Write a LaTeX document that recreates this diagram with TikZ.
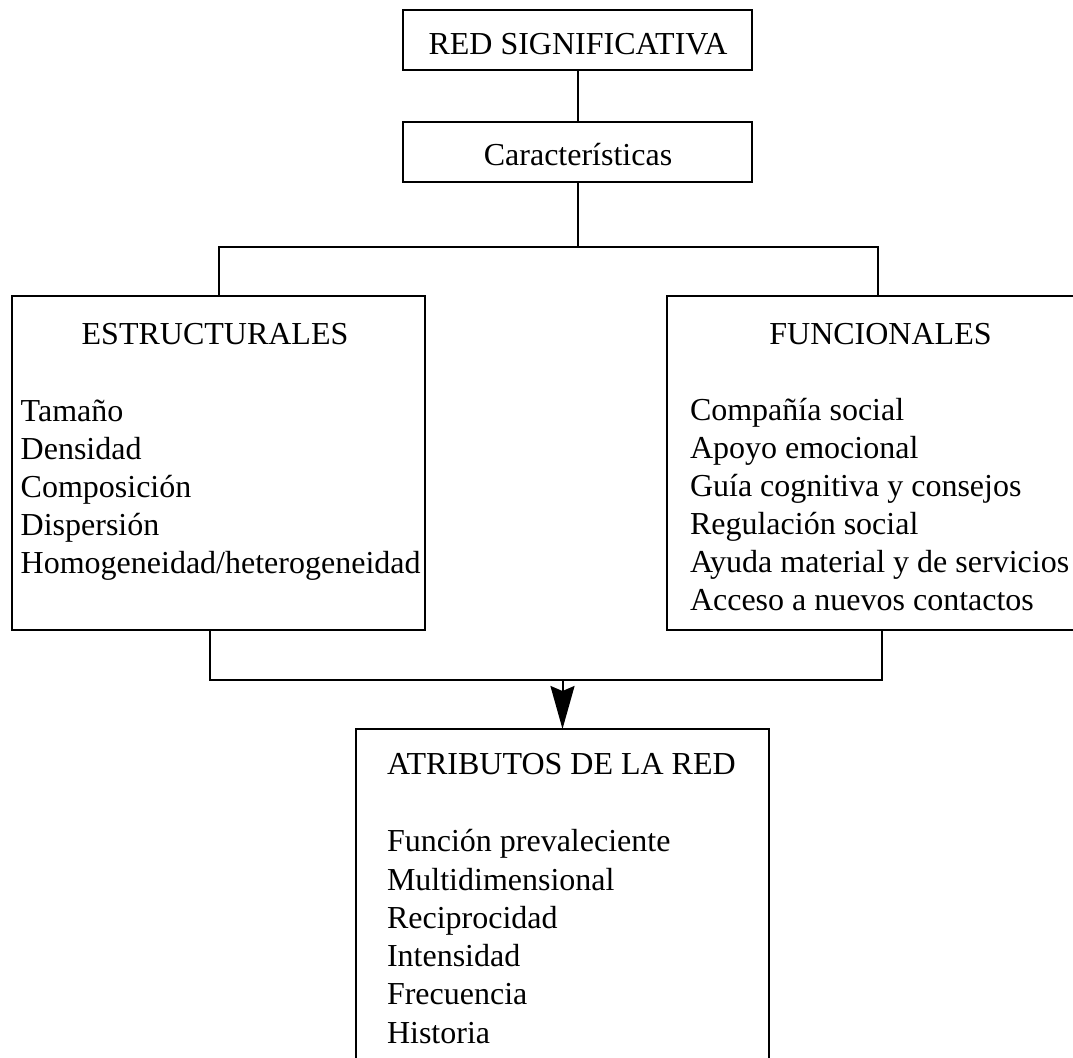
\documentclass[tikz,border=0pt]{standalone}
\usepackage{fontspec}
\setmainfont{Liberation Serif}
\usetikzlibrary{arrows.meta}
\begin{document}
\begin{tikzpicture}[x=1pt,y=-1pt,
  box/.style={draw, line width=2pt, rectangle, inner sep=0pt},
  txt/.style={inner sep=0pt, font=\fontsize{32}{38}\selectfont},
  link/.style={line width=2pt},
  every node/.append style={outer sep=0pt}]
\useasboundingbox (0,0) rectangle (1073,1057);

% boxes
\node[box, minimum width=349, minimum height=60] (red) at (577.5,40) {};
\node[box, minimum width=349, minimum height=60] (car) at (577.5,152) {};
\node[box, minimum width=413, minimum height=334] (est) at (218.5,463) {};
\node[box, minimum width=421, minimum height=334] (fun) at (877.5,463) {};
\node[box, minimum width=413, minimum height=371] (atr) at (562.5,914.5) {};

% titles
\node[txt, anchor=base] (tred) at (578,55) {RED SIGNIFICATIVA};
\node[txt, anchor=base] (tcar) at (578,165.7) {Características};
\node[txt, anchor=base] (test) at (215,344) {ESTRUCTURALES};
\node[txt, anchor=base] (tfun) at (880.5,344) {FUNCIONALES};
\node[txt, anchor=base west] (tatr) at (387,774) {ATRIBUTOS DE LA RED};

% lists
\foreach \t [count=\i] in {Tamaño, Densidad, Composición, Dispersión, Homogeneidad/heterogeneidad}
  \node[txt, anchor=base west] (e\i) at ({20.7},{421.7+(\i-1)*37.9}) {\t};
\foreach \t [count=\i] in {Compañía social, Apoyo emocional, Guía cognitiva y consejos, Regulación social, Ayuda material y de servicios, Acceso a nuevos contactos}
  \node[txt, anchor=base west] (f\i) at ({690},{420+(\i-1)*38}) {\t};
\foreach \t [count=\i] in {Función prevaleciente, Multidimensional, Reciprocidad, Intensidad, Frecuencia, Historia}
  \node[txt, anchor=base west] (a\i) at ({387},{851.7+(\i-1)*38.3}) {\t};

% connectors
\coordinate (split) at (577.5,247);
\coordinate (merge) at (562.5,679.5);
\draw[link] (red.south) -- (car.south |- car.north);
\draw[link] (car.south) -- (split);
\draw[link] (est.north) |- (split) -| (fun.north);
\draw[link] ([xshift=-8.5]est.south) |- (merge) -| ([xshift=4.5]fun.south);
\draw[link, -{Stealth[length=43, width=24, inset=5]}] (merge) -- (atr.north);
\end{tikzpicture}
\end{document}
